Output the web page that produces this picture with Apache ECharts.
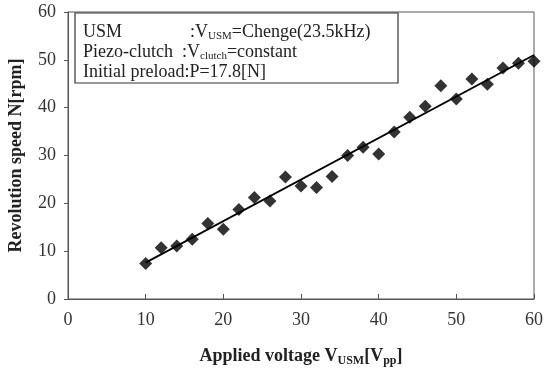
<!DOCTYPE html>
<html><head><meta charset="utf-8">
<script src="https://cdn.jsdelivr.net/npm/echarts@6/dist/echarts.min.js"></script>
<style>html,body{margin:0;padding:0;background:#fff}#c{width:544px;height:371px}</style>
</head><body><div id="c"></div>
<script>
const voltages = [10,12,14,16,18,20,22,24,26,28,30,32,34,36,38,40,42,44,46,48,50,52,54,56,58,60];
const speeds = [7.4,10.7,11.1,12.5,15.8,14.6,18.7,21.2,20.5,25.5,23.6,23.3,25.6,30.0,31.7,30.3,34.9,38.0,40.3,44.6,41.8,46.0,44.9,48.3,49.3,49.7];
const fitX = [10,60];
const fitY = [7.6,51.0];
const xTicks = [0,10,20,30,40,50,60];
const yTicks = [0,10,20,30,40,50,60];

const serif = '"Liberation Serif","DejaVu Serif",serif';
const chart = echarts.init(document.getElementById('c'));
const tf = '18px '+serif;
const sub = {s:{font:'11px '+serif,fill:'#222',padding:[8,0,0,0]}};
chart.setOption({
  animation:false,
  grid:{left:68,right:10,top:12,bottom:72,containLabel:false,outerBoundsMode:'none',show:true,borderColor:'#555',borderWidth:1},
  xAxis:{type:'value',min:0,max:60,interval:10,
    axisLine:{show:true,lineStyle:{color:'#555',width:1}},
    axisTick:{show:true,inside:true,length:5,lineStyle:{color:'#555'}},
    splitLine:{show:false},
    axisLabel:{fontFamily:serif,fontSize:18,color:'#333',margin:12},
    name:'{b|Applied voltage V}{s|USM}{b|[V}{s|pp}{b|]}',nameLocation:'middle',nameGap:47,
    nameTextStyle:{rich:{b:{fontFamily:serif,fontSize:18,fontWeight:'bold',color:'#222'},
      s:{fontFamily:serif,fontSize:12,fontWeight:'bold',color:'#222',padding:[9,0,0,0]}}}
  },
  yAxis:{type:'value',min:0,max:60,interval:10,
    axisLine:{show:true,lineStyle:{color:'#555',width:1}},
    axisTick:{show:true,inside:false,length:4,lineStyle:{color:'#555'}},
    splitLine:{show:false},
    axisLabel:{fontFamily:serif,fontSize:18,color:'#333',margin:12},
    name:'Revolution speed N[rpm]',nameLocation:'middle',nameGap:43,
    nameTextStyle:{fontFamily:serif,fontSize:18,fontWeight:'bold',color:'#222'}
  },
  graphic:[{type:'rect',shape:{x:75,y:13,width:323,height:70},style:{fill:'#fff',stroke:'#333',lineWidth:1.2},z:10},
    {type:'text',x:83,y:23,z:11,style:{text:'USM',font:tf,fill:'#222'}},
    {type:'text',x:190,y:23,z:11,style:{text:':V{s|USM}=Chenge(23.5kHz)',font:tf,fill:'#222',rich:sub}},
    {type:'text',x:83,y:43,z:11,style:{text:'Piezo-clutch',font:tf,fill:'#222'}},
    {type:'text',x:182,y:43,z:11,style:{text:':V{s|clutch}=constant',font:tf,fill:'#222',rich:sub}},
    {type:'text',x:83,y:63,z:11,style:{text:'Initial preload:P=17.8[N]',font:tf,fill:'#222'}}],
  series:[
    {type:'scatter',data:voltages.map((v,i)=>[v,speeds[i]]),symbol:'diamond',symbolSize:13,itemStyle:{color:'#000'},z:3},
    {type:'line',data:fitX.map((v,i)=>[v,fitY[i]]),symbol:'none',lineStyle:{color:'#000',width:1.8},z:2}
  ]
});
</script></body></html>
